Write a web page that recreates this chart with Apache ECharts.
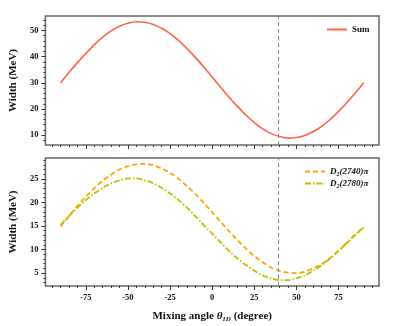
<!DOCTYPE html>
<html>
<head>
<meta charset="utf-8">
<script src="https://cdn.jsdelivr.net/npm/echarts@6/dist/echarts.min.js"></script>
<style>
  html, body { margin: 0; padding: 0; background: #fff; }
  #chart { width: 399px; height: 326px; }
</style>
</head>
<body>
<div id="chart"></div>
<script>
// mixing angle (degree)
const angles = [-90, -85, -80, -75, -70, -65, -60, -55, -50, -45, -40, -35, -30, -25, -20, -15, -10, -5, 0,
  5, 10, 15, 20, 25, 30, 35, 40, 45, 50, 55, 60, 65, 70, 75, 80, 85, 90];
// widths (MeV)
const sumWidth = [30.0, 33.9, 37.7, 41.2, 44.5, 47.4, 49.8, 51.6, 52.7, 53.3, 53.1, 52.3, 50.8, 48.8, 46.2, 43.1, 39.7, 36.0, 32.2,
  28.3, 24.5, 21.0, 17.7, 14.8, 12.4, 10.6, 9.5, 8.9, 9.1, 9.9, 11.4, 13.4, 16.0, 19.1, 22.5, 26.2, 30.0];
const d2740Width = [14.9, 17.1, 19.3, 21.2, 23.0, 24.6, 25.9, 27.0, 27.7, 28.1, 28.2, 27.9, 27.2, 26.3, 25.0, 23.5, 21.8, 19.9, 17.9,
  15.9, 13.9, 12.0, 10.2, 8.6, 7.3, 6.2, 5.5, 5.1, 5.0, 5.3, 6.0, 6.9, 8.2, 9.7, 11.4, 13.1, 14.8];
const d2780Width = [15.2, 17.1, 18.9, 20.5, 21.9, 23.1, 24.1, 24.7, 25.1, 25.1, 24.7, 24.1, 23.1, 21.9, 20.5, 18.9, 17.1, 15.2, 13.4,
  11.5, 9.7, 8.1, 6.7, 5.5, 4.5, 3.9, 3.5, 3.5, 3.9, 4.5, 5.5, 6.7, 8.1, 9.7, 11.5, 13.2, 14.7];
const markAngle = 39;

const xTicks = [-75, -50, -25, 0, 25, 50, 75];
const topYTicks = [10, 20, 30, 40, 50];
const bottomYTicks = [5, 10, 15, 20, 25];

const serif = "'Liberation Serif', 'Times New Roman', serif";

function steps(from, to, step) {
  const out = [];
  for (let v = from; v <= to + 1e-9; v += step) out.push(+v.toFixed(3));
  return out;
}
const xMinor = steps(-95, 95, 5);
const topYMinor = steps(8, 54, 2);
const bottomYMinor = steps(3, 29, 1);

function zip(xs, ys) {
  return xs.map((x, i) => [x, ys[i]]);
}

const labelStyle = { fontFamily: serif, fontWeight: "bold", fontSize: 8.5, color: "#111" };
const tickLine = { color: "#333", width: 1 };

function xAx(grid, ticks, len, labels) {
  return {
    type: "value", gridIndex: grid, min: -99, max: 99, position: "bottom",
    axisLine: { show: false, onZero: false },
    splitLine: { show: false },
    axisTick: { show: true, customValues: ticks, length: len, lineStyle: tickLine },
    axisLabel: labels ? Object.assign({ show: true, customValues: ticks, margin: 7 }, labelStyle) : { show: false }
  };
}
function yAx(grid, min, max, ticks, len, labels) {
  return {
    type: "value", gridIndex: grid, min: min, max: max, position: "left",
    axisLine: { show: false, onZero: false },
    splitLine: { show: false },
    axisTick: { show: true, customValues: ticks, length: len, lineStyle: tickLine },
    axisLabel: labels ? Object.assign({ show: true, customValues: ticks, margin: 7 }, labelStyle) : { show: false },
    name: labels ? "Width (MeV)" : "",
    nameLocation: "middle",
    nameGap: 24,
    nameTextStyle: { fontFamily: serif, fontWeight: "bold", fontSize: 11, color: "#111" }
  };
}

const xName = {
  type: "value", gridIndex: 1, min: -99, max: 99, position: "bottom",
  axisLine: { show: false, onZero: false }, axisTick: { show: false }, axisLabel: { show: false }, splitLine: { show: false },
  name: "{a|Mixing angle }{b|θ}{c|1D}{a| (degree)}",
  nameLocation: "middle",
  nameGap: 24,
  nameTextStyle: {
    rich: {
      a: { fontFamily: serif, fontWeight: "bold", fontSize: 11, color: "#111" },
      b: { fontFamily: serif, fontWeight: "bold", fontStyle: "italic", fontSize: 11, color: "#111" },
      c: { fontFamily: serif, fontWeight: "bold", fontStyle: "italic", fontSize: 7, color: "#111", padding: [6, 0, 0, 0] }
    }
  }
};

const legendRich = {
  n: { fontFamily: serif, fontWeight: "bold", fontStyle: "italic", fontSize: 9, color: "#111" },
  s: { fontFamily: serif, fontWeight: "bold", fontStyle: "italic", fontSize: 6, color: "#111", padding: [5, 0, 0, 0] }
};

const noSymbol = { color: "transparent", borderWidth: 0 };

const option = {
  animation: false,
  backgroundColor: "#fff",
  grid: [
    { left: 40, top: 16, width: 339, height: 129, show: true, borderColor: "#666", borderWidth: 1.5, backgroundColor: "transparent" },
    { left: 40, top: 158, width: 339, height: 128, show: true, borderColor: "#666", borderWidth: 1.5, backgroundColor: "transparent" }
  ],
  legend: [
    {
      data: ["Sum"], left: 321, top: 20, itemWidth: 20, itemHeight: 8, itemStyle: noSymbol,
      textStyle: { fontFamily: serif, fontWeight: "bold", fontSize: 9, color: "#111" }
    },
    {
      data: ["D2(2740)", "D2(2780)"], left: 299, top: 162, orient: "vertical", itemWidth: 20, itemHeight: 8, itemGap: 2,
      itemStyle: noSymbol,
      formatter: name => "{n|D}{s|2}{n|" + name.slice(2) + "π}",
      textStyle: { rich: legendRich }
    }
  ],
  xAxis: [
    xAx(0, xTicks, 4, false),
    xAx(0, xMinor, 2, false),
    xAx(1, xTicks, 4, true),
    xAx(1, xMinor, 2, false),
    xName
  ],
  yAxis: [
    yAx(0, 6.26, 55.5, topYTicks, 4, true),
    yAx(0, 6.26, 55.5, topYMinor, 2, false),
    yAx(1, 2.26, 29.44, bottomYTicks, 4, true),
    yAx(1, 2.26, 29.44, bottomYMinor, 2, false)
  ],
  series: [
    {
      name: "Sum", type: "line", xAxisIndex: 0, yAxisIndex: 0,
      data: zip(angles, sumWidth), smooth: 0.3, symbol: "none",
      lineStyle: { color: "#ff6347", width: 1.6 }, itemStyle: { color: "#ff6347" },
      markLine: {
        silent: true, symbol: "none", label: { show: false },
        lineStyle: { color: "#888", type: [4, 3], width: 1 },
        data: [{ xAxis: markAngle }]
      }
    },
    {
      name: "D2(2740)", type: "line", xAxisIndex: 2, yAxisIndex: 2,
      data: zip(angles, d2740Width), smooth: 0.3, symbol: "none",
      lineStyle: { color: "#ffa500", width: 1.8, type: [5, 3] }, itemStyle: { color: "#ffa500" },
      markLine: {
        silent: true, symbol: "none", label: { show: false },
        lineStyle: { color: "#888", type: [4, 3], width: 1 },
        data: [{ xAxis: markAngle }]
      }
    },
    {
      name: "D2(2780)", type: "line", xAxisIndex: 2, yAxisIndex: 2,
      data: zip(angles, d2780Width), smooth: 0.3, symbol: "none",
      lineStyle: { color: "#bfbf00", width: 1.8, type: [6, 2, 1.5, 2] }, itemStyle: { color: "#bfbf00" }
    }
  ]
};

const chart = echarts.init(document.getElementById("chart"), null, { renderer: "canvas" });
chart.setOption(option);
</script>
</body>
</html>
